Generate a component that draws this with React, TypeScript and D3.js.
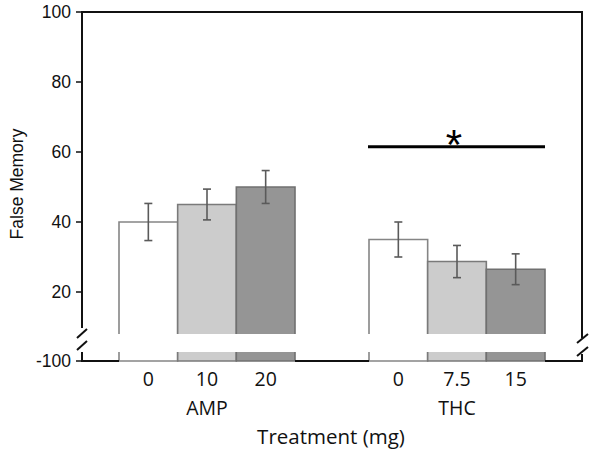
import React from "react";
import * as d3 from "d3";

const groups = ["AMP", "THC"];
const ampDoses = ["0", "10", "20"];
const ampValues = [40, 45, 50];
const ampErrors = [5.3, 4.4, 4.7];
const thcDoses = ["0", "7.5", "15"];
const thcValues = [35, 28.7, 26.5];
const thcErrors = [5, 4.6, 4.4];
const yTicks = [20, 40, 60, 80, 100];
const brokenTick = -100;
const sigValue = 61.5;

const fills = ["#ffffff", "#cccccc", "#959595"];
const strokes = ["#858585", "#7a7a7a", "#707070"];

const W = 600;
const H = 456;
const left = 82;
const right = 582;
const top = 12;
const barBottom = 334;
const axisBottom = 361;
const stripTop = 352;

export default function App() {
  const y = d3.scaleLinear().domain([0, 100]).range([362, top]);
  const xg = d3
    .scaleBand<string>()
    .domain(groups)
    .range([left, right])
    .paddingInner(0.296)
    .paddingOuter(0.148);
  const xd = d3.scaleBand<number>().domain([0, 1, 2]).range([0, xg.bandwidth()]).padding(0);

  const data = [
    { g: "AMP", doses: ampDoses, values: ampValues, errors: ampErrors },
    { g: "THC", doses: thcDoses, values: thcValues, errors: thcErrors },
  ];

  const tickFont = "'Liberation Sans', Arial, sans-serif";
  const labelFont = "'Open Sans', sans-serif";

  const ampStart = xg("AMP")!;
  const thcStart = xg("THC")!;
  const bw = xg.bandwidth();

  return (
    <svg width={W} height={H} style={{ position: "absolute", left: 0, top: 0 }}>
      <rect width={W} height={H} fill="#fff" />
      {/* bars */}
      {data.map((grp) =>
        grp.values.map((v, i) => {
          const x0 = xg(grp.g)! + xd(i)!;
          const x1 = x0 + xd.bandwidth();
          const yt = y(v);
          return (
            <g key={grp.g + i}>
              <rect x={x0} y={yt} width={x1 - x0} height={barBottom - yt} fill={fills[i]} />
              <path
                d={`M${x0},${barBottom}V${yt}H${x1}V${barBottom}`}
                fill="none"
                stroke={strokes[i]}
                strokeWidth={1.6}
              />
              <rect x={x0} y={stripTop} width={x1 - x0} height={axisBottom - stripTop} fill={fills[i]} />
              <path
                d={`M${x0},${stripTop}V${axisBottom}H${x1}V${stripTop}`}
                fill="none"
                stroke={strokes[i]}
                strokeWidth={1.6}
              />
            </g>
          );
        })
      )}
      {/* error bars */}
      {data.map((grp) =>
        grp.values.map((v, i) => {
          const cx = xg(grp.g)! + xd(i)! + xd.bandwidth() / 2;
          const e = grp.errors[i];
          const y1 = y(v + e);
          const y2 = y(v - e);
          return (
            <g key={"e" + grp.g + i} stroke="#5a5a5a" strokeWidth={1.6}>
              <line x1={cx} x2={cx} y1={y1} y2={y2} />
              <line x1={cx - 4} x2={cx + 4} y1={y1} y2={y1} />
              <line x1={cx - 4} x2={cx + 4} y1={y2} y2={y2} />
            </g>
          );
        })
      )}
      {/* frame */}
      <g stroke="#111" strokeWidth={2} fill="none">
        <path d={`M${left},328V${top}H${right}V338`} />
        <path d={`M${left},352V${axisBottom}H${ampStart}`} />
        <path d={`M${ampStart + bw},${axisBottom}H${thcStart}`} />
        <path d={`M${thcStart + bw},${axisBottom}H${right}V354`} />
        {/* break marks */}
        <line x1={left - 5} y1={338} x2={left + 5} y2={329} />
        <line x1={left - 5} y1={350} x2={left + 5} y2={341} />
        <line x1={right - 5} y1={343} x2={right + 6} y2={334} />
        <line x1={right - 5} y1={356} x2={right + 6} y2={347} />
      </g>
      {/* y ticks */}
      {yTicks.map((t) => (
        <g key={t}>
          <line x1={left - 6} x2={left} y1={y(t)} y2={y(t)} stroke="#111" strokeWidth={1.5} />
          <text x={left - 11} y={y(t)} dy="0.36em" textAnchor="end" fontFamily={tickFont} fontSize={17.5} fill="#111">
            {t}
          </text>
        </g>
      ))}
      <line x1={left - 6} x2={left} y1={axisBottom} y2={axisBottom} stroke="#111" strokeWidth={1.5} />
      <text x={left - 11} y={axisBottom} dy="0.36em" textAnchor="end" fontFamily={tickFont} fontSize={17.5} fill="#111">
        {brokenTick}
      </text>
      {/* y label */}
      <text
        transform={`translate(23,184) rotate(-90)`}
        textAnchor="middle"
        fontFamily={tickFont}
        fontSize={17.5}
        fill="#111"
      >
        False Memory
      </text>
      {/* x dose labels */}
      {data.map((grp) =>
        grp.doses.map((d, i) => (
          <text
            key={"d" + grp.g + i}
            x={xg(grp.g)! + xd(i)! + xd.bandwidth() / 2}
            y={386}
            textAnchor="middle"
            fontFamily={labelFont}
            fontSize={19.5}
            fill="#111"
          >
            {d}
          </text>
        ))
      )}
      {groups.map((g) => (
        <text
          key={"g" + g}
          x={xg(g)! + bw / 2}
          y={415}
          textAnchor="middle"
          fontFamily={labelFont}
          fontSize={19.5}
          fill="#111"
        >
          {g}
        </text>
      ))}
      <text x={331} y={444} textAnchor="middle" fontFamily={labelFont} fontSize={20.5} fill="#111">
        Treatment (mg)
      </text>
      {/* significance */}
      <line x1={thcStart - 1} x2={thcStart + bw} y1={y(sigValue)} y2={y(sigValue)} stroke="#000" strokeWidth={3} />
      <text
        x={thcStart + bw / 2 - 3}
        y={y(sigValue) + 12}
        textAnchor="middle"
        fontFamily={tickFont}
        fontSize={42}
        fill="#000"
      >
        *
      </text>
    </svg>
  );
}
